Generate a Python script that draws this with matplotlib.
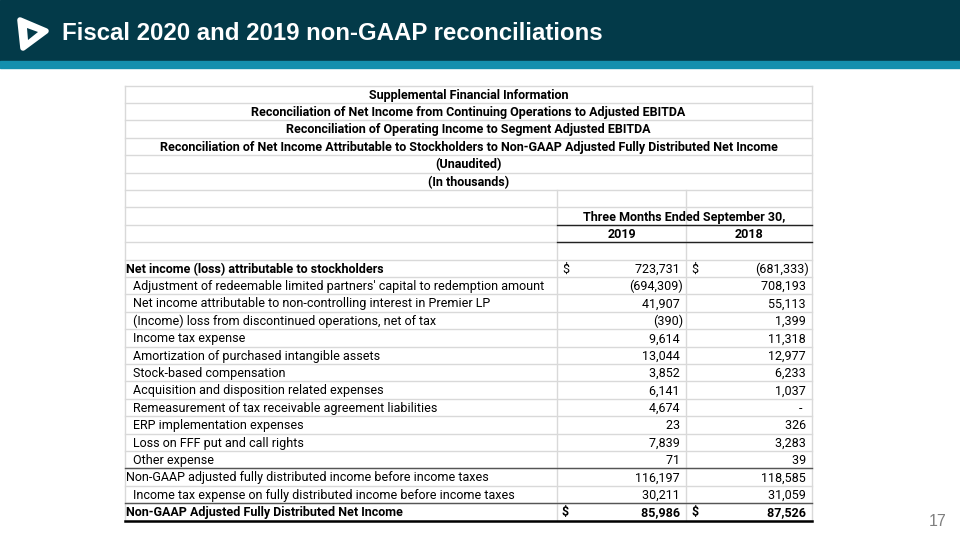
#!/usr/bin/env python3
"""Fiscal 2020 and 2019 non-GAAP reconciliation table slide."""

import matplotlib.pyplot as plt
from matplotlib.patches import Polygon, Rectangle

TITLE = "Fiscal 2020 and 2019 non-GAAP reconciliations"
PAGE = "17"

HEADER_LINES = [
    "Supplemental Financial Information",
    "Reconciliation of Net Income from Continuing Operations to Adjusted EBITDA",
    "Reconciliation of Operating Income to Segment Adjusted EBITDA",
    "Reconciliation of Net Income Attributable to Stockholders to Non-GAAP Adjusted Fully Distributed Net Income",
    "(Unaudited)",
    "(In thousands)",
]
PERIOD = "Three Months Ended September 30,"
YEARS = ["2019", "2018"]

LABELS = [
    "Net income (loss) attributable to stockholders",
    "Adjustment of redeemable limited partners' capital to redemption amount",
    "Net income attributable to non-controlling interest in Premier LP",
    "(Income) loss from discontinued operations, net of tax",
    "Income tax expense",
    "Amortization of purchased intangible assets",
    "Stock-based compensation",
    "Acquisition and disposition related expenses",
    "Remeasurement of tax receivable agreement liabilities",
    "ERP implementation expenses",
    "Loss on FFF put and call rights",
    "Other expense",
    "Non-GAAP adjusted fully distributed income before income taxes",
    "Income tax expense on fully distributed income before income taxes",
    "Non-GAAP Adjusted Fully Distributed Net Income",
]
VALUES_2019 = [723731, -694309, 41907, -390, 9614, 13044, 3852, 6141, 4674,
               23, 7839, 71, 116197, 30211, 85986]
VALUES_2018 = [-681333, 708193, 55113, 1399, 11318, 12977, 6233, 1037, None,
               326, 3283, 39, 118585, 31059, 87526]
INDENTED = [False, True, True, True, True, True, True, True, True, True, True,
            True, False, True, False]
BOLD_LABEL = [True] + [False] * 13 + [True]
BOLD_VALUE = [False] * 14 + [True]
DOLLAR = [True] + [False] * 13 + [True]

FONT = ["Roboto", "DejaVu Sans"]
GRID = "#d9d9d9"


def fmt(v):
    if v is None:
        return "-  "
    if v < 0:
        return f"({-v:,})"
    return f"{v:,} "


def main() -> None:
    fig = plt.figure(figsize=(9.6, 5.4), dpi=100)
    ax = fig.add_axes([0, 0, 1, 1])
    ax.set_xlim(0, 960)
    ax.set_ylim(540, 0)
    ax.axis("off")

    # header band
    ax.add_patch(Rectangle((0, 0), 960, 61, color="#033a49", zorder=1))
    ax.add_patch(Rectangle((0, 61), 960, 7, color="#138fae", zorder=1))
    ax.add_patch(Polygon([(20, 20), (46, 31), (23, 48)], closed=True,
                         facecolor="white", edgecolor="white", lw=4,
                         joinstyle="round", zorder=2))
    ax.add_patch(Polygon([(27, 28), (38, 32), (28, 40)], closed=True,
                         facecolor="#033a49", zorder=3))
    ax.text(62, 33, TITLE, color="white", fontsize=17.3, fontweight="bold",
            family=["Liberation Sans", "DejaVu Sans"], va="center", ha="left")
    ax.text(946, 522, PAGE, color="#7f7f7f", fontsize=11.5,
            family=["Liberation Sans", "DejaVu Sans"], va="center", ha="right")

    # table geometry
    left, right = 125, 812
    c1, c2 = 557, 686
    top, rh = 85.5, 17.4
    n_rows = len(HEADER_LINES) + 4 + len(LABELS)
    bottom = top + n_rows * rh

    def row_y(i):
        return top + i * rh

    # light grid
    for i in range(n_rows + 1):
        ax.plot([left, right], [row_y(i)] * 2, color=GRID, lw=1, zorder=2)
    ax.plot([left, left], [top, bottom], color=GRID, lw=1, zorder=2)
    ax.plot([right, right], [top, bottom], color=GRID, lw=1, zorder=2)
    for x in (c1, c2):
        ax.plot([x, x], [row_y(6), bottom], color=GRID, lw=1, zorder=2)

    # dark rules
    ax.plot([c1, right], [row_y(8)] * 2, color="#222222", lw=1, zorder=3)
    ax.plot([c1, right], [row_y(9)] * 2, color="#222222", lw=1, zorder=3)
    ax.plot([left, right], [row_y(22)] * 2, color="#555555", lw=1, zorder=3)
    ax.plot([left, right], [row_y(24)] * 2, color="#555555", lw=1, zorder=3)
    ax.plot([left, right], [bottom] * 2, color="black", lw=1.8, zorder=3)

    fs = 9.0
    cx = (left + right) / 2
    for i, line in enumerate(HEADER_LINES):
        ax.text(cx, row_y(i) + rh / 2 + 1, line, ha="center", va="center",
                fontsize=fs, fontweight="bold", family=FONT, zorder=4)
    ax.text((c1 + right) / 2, row_y(7) + rh / 2 + 1, PERIOD, ha="center",
            va="center", fontsize=fs, fontweight="bold", family=FONT, zorder=4)
    for yr, (a, b) in zip(YEARS, [(c1, c2), (c2, right)]):
        ax.text((a + b) / 2, row_y(8) + rh / 2 + 1, yr, ha="center",
                va="center", fontsize=fs, fontweight="bold", family=FONT,
                zorder=4)

    for k, label in enumerate(LABELS):
        y = row_y(10 + k) + rh / 2 + 1
        x = left + (8 if INDENTED[k] else 1)
        ax.text(x, y, label, ha="left", va="center", fontsize=fs,
                fontweight="bold" if BOLD_LABEL[k] else "normal",
                family=FONT, zorder=4)
        w = "bold" if BOLD_VALUE[k] else "normal"
        for val, a, b in ((VALUES_2019[k], c1, c2), (VALUES_2018[k], c2, right)):
            ax.text(b - 3, y, fmt(val), ha="right", va="center", fontsize=fs,
                    fontweight=w, family=FONT, zorder=4)
            if DOLLAR[k]:
                ax.text(a + 5, y, "$", ha="left", va="center", fontsize=fs,
                        fontweight=w, family=FONT, zorder=4)

    fig.savefig("out.png", dpi=100)


if __name__ == "__main__":
    main()
